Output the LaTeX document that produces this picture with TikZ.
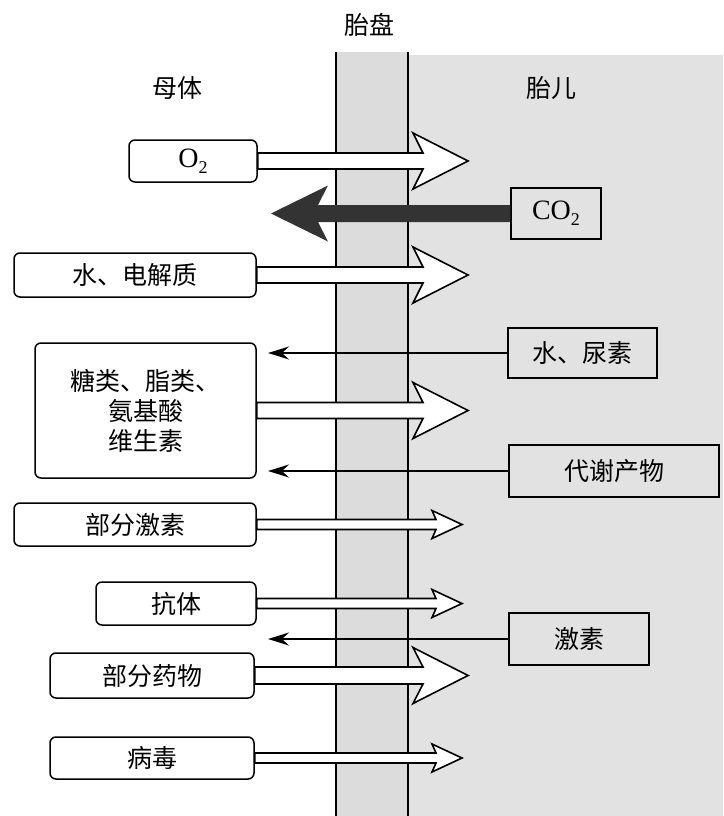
\documentclass[tikz,border=0pt]{standalone}
\usepackage{fontspec}
\newfontfamily\cjk{Noto Sans CJK SC}
\newfontfamily\latin{Liberation Serif}
\usetikzlibrary{arrows.meta,calc}
\definecolor{placenta}{HTML}{DCDCDC}
\definecolor{fetus}{HTML}{E2E2E2}
\definecolor{inkdark}{HTML}{333333}
\newcommand{\chem}[1]{{\latin\fontsize{28}{30}\selectfont #1\raisebox{-0.22em}{\fontsize{18}{18}\selectfont 2}}}
% style, from, to, head length, barb back, shaft half, head half
\newcommand{\fatarrow}[7]{%
  \path[#1] let \p1=(#2), \p2=(#3) in
    ({\x1},{\y1+#6}) -- ({\x2-(#4)},{\y1+#6}) -- ({\x2-(#4)-(#5)},{\y1+#7}) -- ({\x2},{\y1})
    -- ({\x2-(#4)-(#5)},{\y1-#7}) -- ({\x2-(#4)},{\y1-#6}) -- ({\x1},{\y1-#6}) -- cycle;}
\begin{document}
\begin{tikzpicture}[x=1pt,y=-1pt,font=\cjk\fontsize{25}{30}\selectfont,>=Stealth,
    lbox/.style={draw,line width=1.5pt,rounded corners=6pt,fill=white,inner sep=0pt,align=center},
    rbox/.style={draw,line width=1.5pt,inner sep=0pt},
    hollow/.style={draw,fill=white,line width=1.6pt,line join=miter},
    solid/.style={fill=inkdark},
    thinarrow/.style={line width=1.5pt,-{Stealth[length=21pt,width=13pt,inset=7pt]}}]
  \useasboundingbox (0,0) rectangle (723,816);
  % placenta and fetal side
  \fill[placenta] (336,52) rectangle (408,816);
  \fill[fetus] (408,55) rectangle (723,816);
  \draw[line width=1.3pt] (336,52) -- (336,816) (408,52) -- (408,816);
  \node (plac) at (369,25) {胎盘};
  \node (mother) at (177,88) {母体};
  \node (fetal) at (551,88) {胎儿};
  \coordinate (bigtip) at (468,0);
  \coordinate (smalltip) at (462,0);
  \coordinate (backtip) at (271,0);
  \coordinate (thintip) at (268,0);
  % maternal side
  \node[lbox,minimum width=128pt,minimum height=42pt] (o2) at (193,161) {\chem{O}};
  \node[lbox,minimum width=242pt,minimum height=44pt] (water) at (135,275) {水、电解质};
  \node[lbox,minimum width=221pt,minimum height=135pt] (nutr) at (145.5,410.5) {糖类、脂类、\\氨基酸\\维生素};
  \node[lbox,minimum width=242pt,minimum height=43pt] (mhorm) at (135,524.5) {部分激素};
  \node[lbox,minimum width=160pt,minimum height=43pt] (anti) at (176,603.5) {抗体};
  \node[lbox,minimum width=204pt,minimum height=45pt] (drug) at (152,675.5) {部分药物};
  \node[lbox,minimum width=204pt,minimum height=42pt] (virus) at (152,758) {病毒};
  % fetal side
  \node[rbox,minimum width=90pt,minimum height=51pt] (co2) at (556,213.5) {\chem{CO}};
  \node[rbox,minimum width=149pt,minimum height=50pt] (urea) at (582.5,353) {水、尿素};
  \node[rbox,minimum width=210pt,minimum height=52pt] (waste) at (614,471) {代谢产物};
  \node[rbox,minimum width=140pt,minimum height=52pt] (fhorm) at (579,639) {激素};
  % transfer arrows
  \fatarrow{hollow}{o2.east}{bigtip}{45pt}{10pt}{8pt}{28pt}
  \fatarrow{solid}{co2.west}{backtip}{-47pt}{-10pt}{8.5pt}{28pt}
  \fatarrow{hollow}{water.east}{bigtip}{45pt}{10pt}{8pt}{28pt}
  \fatarrow{hollow}{nutr.east}{bigtip}{45pt}{10pt}{8pt}{28pt}
  \fatarrow{hollow}{mhorm.east}{smalltip}{26pt}{4pt}{5pt}{14pt}
  \fatarrow{hollow}{anti.east}{smalltip}{26pt}{4pt}{5pt}{14pt}
  \fatarrow{hollow}{drug.east}{bigtip}{45pt}{10pt}{8.5pt}{28pt}
  \fatarrow{hollow}{virus.east}{smalltip}{26pt}{4pt}{5pt}{14pt}
  \draw[thinarrow] (urea.west) -- (urea.west -| thintip);
  \draw[thinarrow] (waste.west) -- (waste.west -| thintip);
  \draw[thinarrow] (fhorm.west) -- (fhorm.west -| thintip);
\end{tikzpicture}
\end{document}
